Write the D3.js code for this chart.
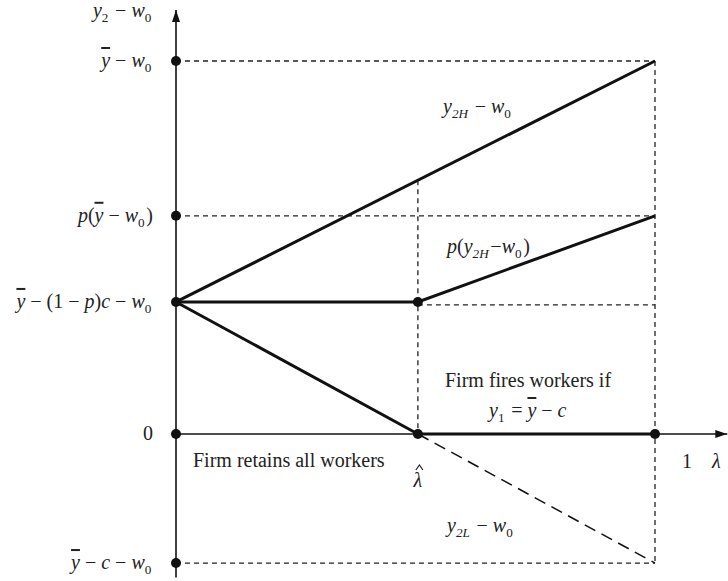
<!DOCTYPE html>
<html>
<head>
<meta charset="utf-8">
<script src="https://cdn.jsdelivr.net/npm/d3@7"></script>
<style>
  body { margin: 0; background: #fff; }
  text { font-family: "Liberation Serif", "Times New Roman", serif; fill: #222; }
  .ov { text-decoration: overline; }
</style>
</head>
<body>
<svg id="canvas" width="728" height="581"></svg>
<script>
// levels on the vertical axis (0 = x axis)
let levels = [10, 5.85, 3.54, 0, -3.46];
let lambdaHat = 0.505;

// tick labels: pieces of rich text, i = italic, s = subscript, o = overline
let levelLabels = [
  [{t:'y',i:1,o:1},{t:' − '},{t:'w',i:1},{t:'0',s:1}],
  [{t:'p',i:1},{t:'('},{t:'y',i:1,o:1},{t:' − '},{t:'w',i:1},{t:'0',s:1},{t:')'}],
  [{t:'y',i:1,o:1},{t:' − (1 − '},{t:'p',i:1},{t:')'},{t:'c',i:1},{t:' − '},{t:'w',i:1},{t:'0',s:1}],
  [{t:'0'}],
  [{t:'y',i:1,o:1},{t:' − '},{t:'c',i:1},{t:' − '},{t:'w',i:1},{t:'0',s:1}]
];
let axisLabelY = [{t:'y',i:1},{t:'2',s:1},{t:' − '},{t:'w',i:1},{t:'0',s:1}];

// curves as [lambda, value]
let y2H = [[0, 3.54], [1, 10]];
let pY2H = [[0, 3.54], [lambdaHat, 3.54], [1, 5.85]];
let y2LSolid = [[0, 3.54], [lambdaHat, 0]];
let y2LDashed = [[lambdaHat, 0], [1, -3.46]];
let fireSegment = [[lambdaHat, 0], [1, 0]];
let kinkDots = [[lambdaHat, 3.54], [lambdaHat, 0], [1, 0]];

let svg = d3.select('#canvas');
let x = d3.scaleLinear().domain([0, 1]).range([176, 655]);
let y = d3.scaleLinear().domain([0, 10]).range([434, 61]);
let line = d3.line().x(d => x(d[0])).y(d => y(d[1]));

function rich(sel, parts, size) {
  parts.forEach(p => {
    let ts = sel.append('tspan').text(p.t);
    if (p.i) ts.style('font-style', 'italic');
    if (p.o) ts.attr('class', 'ov');
    if (p.s) {
      ts.attr('font-size', size * 0.66).attr('dy', size * 0.25);
      sel.append('tspan').text('\u200a').attr('dy', -size * 0.25);
    }
  });
  return sel;
}

svg.append('defs').append('marker')
  .attr('id', 'arrow').attr('viewBox', '0 0 12 8')
  .attr('refX', 12).attr('refY', 4)
  .attr('markerWidth', 12).attr('markerHeight', 8)
  .attr('markerUnits', 'userSpaceOnUse').attr('orient', 'auto')
  .append('path').attr('d', 'M0,0 L12,4 L0,8 Z').attr('fill', '#111');

// dashed guides
let dash = svg.append('g').attr('stroke', '#222').attr('stroke-width', 1.3)
  .attr('stroke-dasharray', '5,4').attr('fill', 'none');
[levels[0], levels[1], levels[4]].forEach(v => {
  dash.append('line').attr('x1', x(0)).attr('x2', x(1)).attr('y1', y(v)).attr('y2', y(v));
});
dash.append('line').attr('x1', x(lambdaHat)).attr('x2', x(1))
  .attr('y1', y(levels[2]) + 3).attr('y2', y(levels[2]) + 3);
dash.append('line').attr('x1', x(1)).attr('x2', x(1)).attr('y1', y(levels[0])).attr('y2', y(levels[4]));
dash.append('line').attr('x1', x(lambdaHat)).attr('x2', x(lambdaHat))
  .attr('y1', y(3.54 + (10 - 3.54) * lambdaHat)).attr('y2', y(0));

// axes
svg.append('line').attr('x1', x(0)).attr('x2', x(0))
  .attr('y1', y(-3.85)).attr('y2', y(11.37))
  .attr('stroke', '#111').attr('stroke-width', 1.6).attr('marker-end', 'url(#arrow)');
svg.append('line').attr('x1', x(0)).attr('x2', x(1.151))
  .attr('y1', y(0)).attr('y2', y(0))
  .attr('stroke', '#111').attr('stroke-width', 1.6).attr('marker-end', 'url(#arrow)');

// curves
[y2H, pY2H, y2LSolid, fireSegment].forEach(d => {
  svg.append('path').datum(d).attr('d', line)
    .attr('fill', 'none').attr('stroke', '#111').attr('stroke-width', 3);
});
svg.append('path').datum(y2LDashed).attr('d', line)
  .attr('fill', 'none').attr('stroke', '#111').attr('stroke-width', 1.5)
  .attr('stroke-dasharray', '12,7');

// dots
svg.selectAll('circle.lv').data(levels).enter().append('circle')
  .attr('cx', x(0)).attr('cy', d => y(d)).attr('r', 5).attr('fill', '#111');
svg.selectAll('circle.kd').data(kinkDots).enter().append('circle')
  .attr('cx', d => x(d[0])).attr('cy', d => y(d[1])).attr('r', 5).attr('fill', '#111');

// tick labels
let fs = 20;
levels.forEach((v, i) => {
  rich(svg.append('text').attr('x', 153).attr('y', y(v) + 6)
    .attr('text-anchor', 'end').attr('font-size', fs), levelLabels[i], fs);
});
rich(svg.append('text').attr('x', 153).attr('y', 17)
  .attr('text-anchor', 'end').attr('font-size', fs), axisLabelY, fs);

// annotations
function note(px, py, parts, anchor) {
  return rich(svg.append('text').attr('x', px).attr('y', py)
    .attr('text-anchor', anchor || 'start').attr('font-size', fs), parts, fs);
}
note(443, 113, [{t:'y',i:1},{t:'2H',s:1,i:1},{t:' − '},{t:'w',i:1},{t:'0',s:1}]);
note(447, 253, [{t:'p',i:1},{t:'('},{t:'y',i:1},{t:'2H',s:1,i:1},{t:'−'},{t:'w',i:1},{t:'0',s:1},{t:')'}]);
note(445, 387, [{t:'Firm fires workers if'}]);
note(489, 417, [{t:'y',i:1},{t:'1',s:1},{t:' = '},{t:'y',i:1,o:1},{t:' − '},{t:'c',i:1}]);
note(193, 467, [{t:'Firm retains all workers'}]);
// lambda with a small drawn hat above it
let lx = x(lambdaHat);
note(lx, 487, [{t:'λ',i:1}], 'middle');
svg.append('path').attr('d', `M${lx - 2},${470} L${lx + 1.5},${465} L${lx + 5},${470}`)
  .attr('fill', 'none').attr('stroke', '#222').attr('stroke-width', 1.2);
note(682, 468, [{t:'1'}]);
note(712, 468, [{t:'λ',i:1}]);
note(447, 532, [{t:'y',i:1},{t:'2L',s:1,i:1},{t:' − '},{t:'w',i:1},{t:'0',s:1}]);
</script>
</body>
</html>
